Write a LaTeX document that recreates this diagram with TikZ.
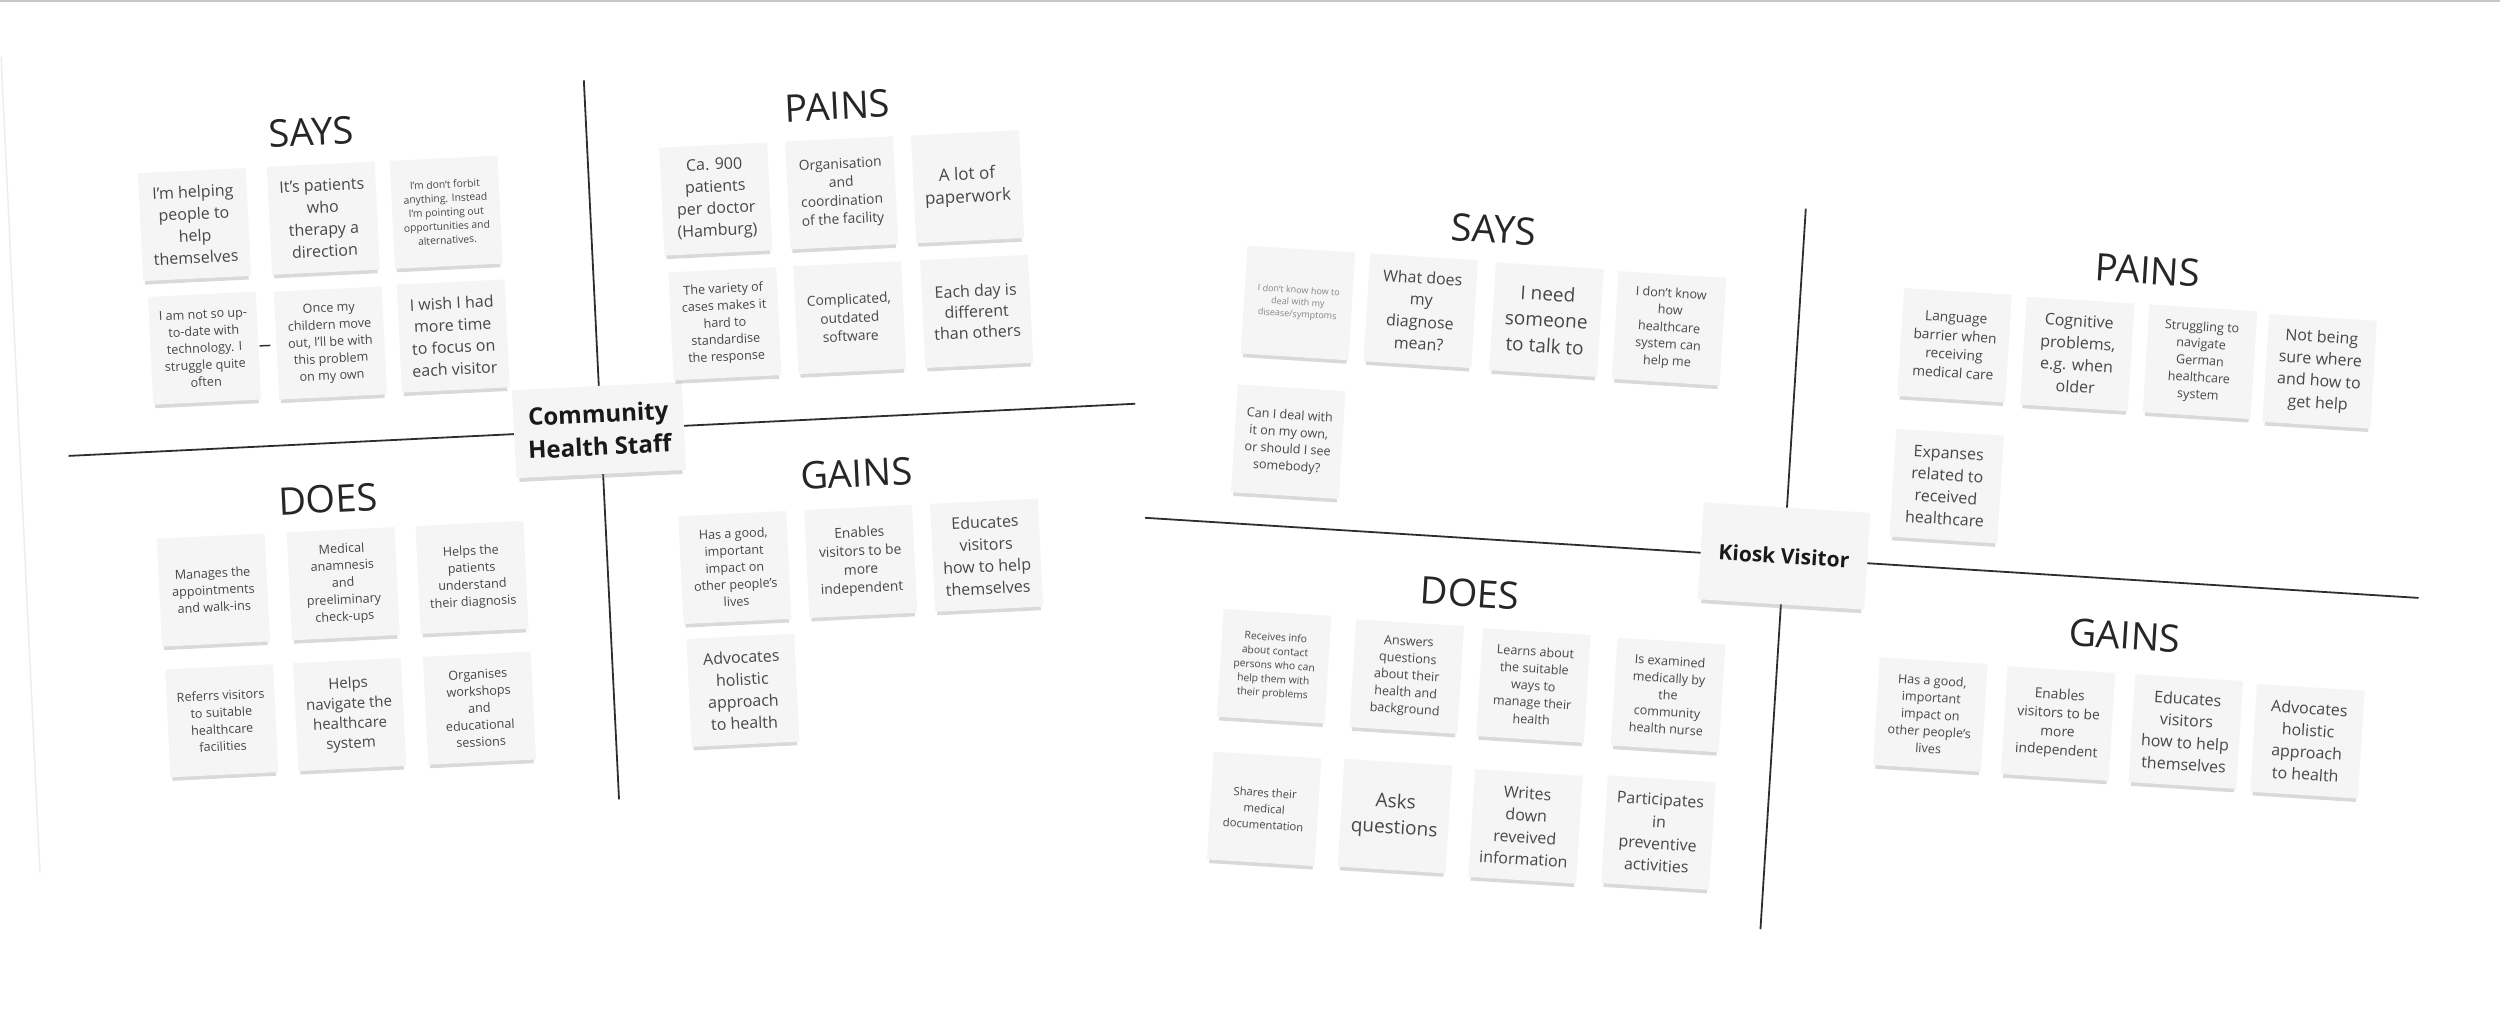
\documentclass[tikz,border=0pt]{standalone}
\usepackage{fontspec}
\setmainfont{Open Sans}
\usetikzlibrary{shadows}
\definecolor{NoteFill}{HTML}{F5F5F5}
\definecolor{NoteInk}{HTML}{474747}
\definecolor{NoteFaint}{HTML}{858585}
\definecolor{BoardLine}{HTML}{2E2E2E}
\begin{document}
\begin{tikzpicture}[x=1pt,y=-1pt,
  note/.style={fill=NoteFill,text=NoteInk,align=center,inner sep=2pt,
    minimum width=108pt,minimum height=108pt,
    drop shadow={shadow xshift=0pt,shadow yshift=-6pt,shadow scale=.96,opacity=.3}},
  xlnote/.style={note,font=\fontsize{19}{26}\selectfont},
  bignote/.style={note,font=\fontsize{16}{22}\selectfont},
  navnote/.style={note,font=\fontsize{15}{20}\selectfont},
  midlnote/.style={note,font=\fontsize{13.8}{18.5}\selectfont},
  midnote/.style={note,font=\fontsize{12.6}{17}\selectfont},
  lownote/.style={note,font=\fontsize{11.3}{16}\selectfont},
  smallnote/.style={note,font=\fontsize{10.3}{14}\selectfont},
  tinynote/.style={note,text=NoteFaint,font=\fontsize{9}{12}\selectfont},
  quadtitle/.style={font=\fontsize{38}{44}\selectfont,text=black!85},
  persona/.style={fill=NoteFill,text=black!90,align=center,
    minimum width=170pt,minimum height=88pt,
    drop shadow={shadow xshift=0pt,shadow yshift=-6pt,shadow scale=.96,opacity=.3}},
  divider/.style={BoardLine,line width=1.8pt}]
  \useasboundingbox (0,0) rectangle (2500,1019);
  \draw[black!22,line width=2pt] (0,1)--(2500,1);

  \begin{scope}[rotate around={2.8:(599,430)},transform shape]
    \draw[black!7,line width=1.5pt] (20,28)--(19,845);
    \coordinate (lN) at (601,80);
    \coordinate (lS) at (601,800);
    \coordinate (lW) at (68,430);
    \coordinate (lE) at (1136,430);
    \draw[divider] (lN)--(lS);
    \draw[divider] (lW)--(lE);
    \node[persona,font=\bfseries\fontsize{24}{33}\selectfont] (cL) at (599,430) {Community\\Health Staff};

    \node[quadtitle] (saysL) at (326,118) {SAYS};
    \node[quadtitle] (painsL) at (853,118) {PAINS};
    \node[quadtitle] (doesL) at (325,486) {DOES};
    \node[quadtitle] (gainsL) at (854,486) {GAINS};

    \node[bignote] (sL1) at (205,205) {I'm helping\\people to\\help\\themselves};
    \node[bignote] (sL2) at (334,205) {It's patients\\who\\therapy a\\direction};
    \node[smallnote] (sL3) at (457,205) {I'm don't forbit\\anything. Instead\\I'm pointing out\\opportunities and\\alternatives.};
    \node[midnote] (sL4) at (209,329) {I am not so up-\\to-date with\\technology. I\\struggle quite\\often};
    \node[midnote] (sL5) at (335,330) {Once my\\childern move\\out, I'll be with\\this problem\\on my own};
    \node[bignote] (sL6) at (458,329) {I wish I had\\more time\\to focus on\\each visitor};
    \draw[divider,line width=1.5pt,shorten <=1pt,shorten >=6pt] (sL4)--(sL5);

    \node[bignote] (pL1) at (727,205) {Ca. 900\\patients\\per doctor\\(Hamburg)};
    \node[midlnote] (pL2) at (853,205) {Organisation\\and\\coordination\\of the facility};
    \node[bignote,font=\fontsize{17}{23}\selectfont] (pL3) at (979,205) {A lot of\\paperwork};
    \node[midnote] (pL4) at (730,330) {The variety of\\cases makes it\\hard to\\standardise\\the response};
    \node[midlnote] (pL5) at (855,330) {Complicated,\\outdated\\software};
    \node[bignote,font=\fontsize{16}{20.7}\selectfont] (pL6) at (982,330) {Each day is\\different\\than others};

    \node[midnote] (dL1) at (206,571) {Manages the\\appointments\\and walk-ins};
    \node[midnote] (dL2) at (336,571) {Medical\\anamnesis\\and\\preeliminary\\check-ups};
    \node[midnote] (dL3) at (465,571) {Helps the\\patients\\understand\\their diagnosis};
    \node[midnote] (dL4) at (208,702) {Referrs visitors\\to suitable\\healthcare\\facilities};
    \node[navnote] (dL5) at (336,702) {Helps\\navigate the\\healthcare\\system};
    \node[midnote] (dL6) at (466,702) {Organises\\workshops\\and\\educational\\sessions};

    \node[midnote] (gL1) at (728,574) {Has a good,\\important\\impact on\\other people's\\lives};
    \node[midlnote] (gL2) at (854,574) {Enables\\visitors to be\\more\\independent};
    \node[bignote] (gL3) at (980,574) {Educates\\visitors\\how to help\\themselves};
    \node[bignote] (gL4) at (730,697) {Advocates\\holistic\\approach\\to health};
  \end{scope}

  \begin{scope}[rotate around={-3.6:(1784,556)},transform shape]
    \coordinate (rN) at (1784,208);
    \coordinate (rS) at (1784,930);
    \coordinate (rW) at (1144,558);
    \coordinate (rE) at (2420,558);
    \draw[divider] (rN)--(rS);
    \draw[divider] (rW)--(rE);
    \node[persona,minimum width=167pt,minimum height=97pt,font=\bfseries\fontsize{21}{28}\selectfont] (cR) at (1784,556) {Kiosk Visitor};

    \node[quadtitle] (saysR) at (1474,248) {SAYS};
    \node[quadtitle] (painsR) at (2129,248) {PAINS};
    \node[quadtitle] (doesR) at (1473,613) {DOES};
    \node[quadtitle] (gainsR) at (2129,614) {GAINS};

    \node[tinynote] (sR1) at (1283,334) {I don't know how to\\deal with my\\disease/symptoms};
    \node[bignote] (sR2) at (1406,334) {What does\\my\\diagnose\\mean?};
    \node[xlnote] (sR3) at (1532,335) {I need\\someone\\to talk to};
    \node[midnote] (sR4) at (1655,336) {I don't know\\how\\healthcare\\system can\\help me};
    \node[midnote] (sR5) at (1282,473) {Can I deal with\\it on my own,\\or should I see\\somebody?};

    \node[midlnote] (pR1) at (1941,335) {Language\\barrier when\\receiving\\medical care};
    \node[bignote] (pR2) at (2064,336) {Cognitive\\problems,\\e.g. when\\older};
    \node[midnote] (pR3) at (2187,336) {Struggling to\\navigate\\German\\healthcare\\system};
    \node[bignote] (pR4) at (2307,338) {Not being\\sure where\\and how to\\get help};
    \node[bignote] (pR5) at (1942,476) {Expanses\\related to\\received\\healthcare};

    \node[smallnote] (dR1) at (1282,698) {Receives info\\about contact\\persons who can\\help them with\\their problems};
    \node[midnote] (dR2) at (1415,700) {Answers\\questions\\about their\\health and\\background};
    \node[midnote] (dR3) at (1542,701) {Learns about\\the suitable\\ways to\\manage their\\health};
    \node[midnote] (dR4) at (1677,702) {Is examined\\medically by\\the\\community\\health nurse};
    \node[lownote] (dR5) at (1281,841) {Shares their\\medical\\documentation};
    \node[xlnote] (dR6) at (1412,840) {Asks\\questions};
    \node[bignote] (dR7) at (1543,842) {Writes\\down\\reveived\\information};
    \node[bignote] (dR8) at (1676,840) {Participates\\in\\preventive\\activities};

    \node[midnote] (gR1) at (1940,705) {Has a good,\\important\\impact on\\other people's\\lives};
    \node[midlnote] (gR2) at (2068,706) {Enables\\visitors to be\\more\\independent};
    \node[bignote] (gR3) at (2196,706) {Educates\\visitors\\how to help\\themselves};
    \node[bignote] (gR4) at (2318,708) {Advocates\\holistic\\approach\\to health};
  \end{scope}
\end{tikzpicture}
\end{document}
